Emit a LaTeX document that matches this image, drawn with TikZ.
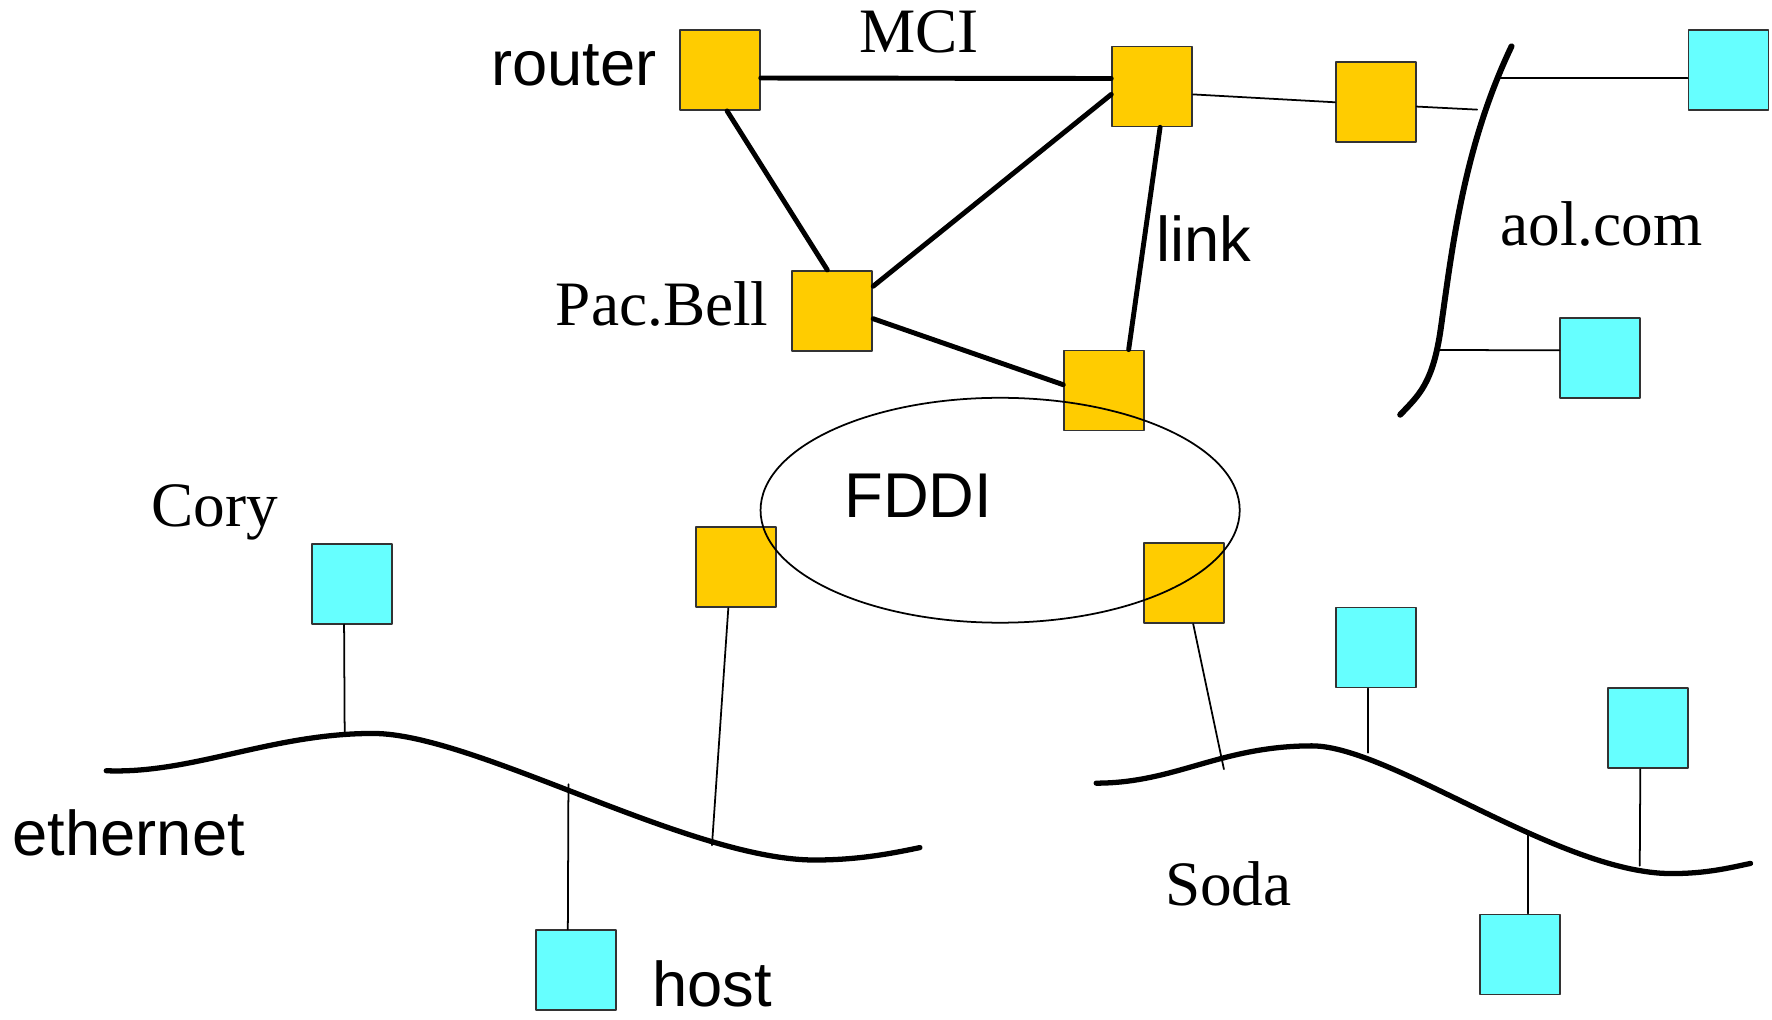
\documentclass[tikz,border=0pt]{standalone}
\usepackage{fontspec}
\setmainfont{Liberation Serif}
\setsansfont{Liberation Sans}
\definecolor{gwyellow}{HTML}{FFCC00}
\definecolor{hostcyan}{HTML}{66FFFF}
\begin{document}
\begin{tikzpicture}[x=1.1301cm,y=1.1301cm,line join=round,line cap=round,
	font=\fontsize{18}{20}\selectfont,
	rbox/.style={draw=black!80,line width=0.5pt,fill=gwyellow,minimum size=0.80cm,inner sep=0pt},
	hbox/.style={draw=black!80,line width=0.5pt,fill=hostcyan,minimum size=0.80cm,inner sep=0pt},
	lab/.style={anchor=base,inner sep=0pt},
	slab/.style={lab,font=\fontsize{18}{20}\selectfont\sffamily},
	trunk/.style={line width=1.4pt},
	cable/.style={line width=1.5pt},
	tap/.style={line width=0.5pt}]
	\useasboundingbox (0,0) rectangle (15.68,-9.02);
	%Router
	\node[rbox] (router) at (6.37,-0.62) {};
	\node[rbox] (mci) at (10.195,-0.765) {};
	\node[rbox] (gwaol) at (12.175,-0.905) {};
	\node[rbox] (pacbell) at (7.365,-2.75) {};
	\node[rbox] (gwlink) at (9.77,-3.455) {};
	\node[rbox] (gwcory) at (6.515,-5.02) {};
	\node[rbox] (gwsoda) at (10.475,-5.16) {};
	%Host
	\node[hbox] (aolhost1) at (15.295,-0.62) {};
	\node[hbox] (aolhost2) at (14.16,-3.17) {};
	\node[hbox] (coryhost) at (3.115,-5.165) {};
	\node[hbox] (host) at (5.095,-8.585) {};
	\node[hbox] (sodahost1) at (12.175,-5.73) {};
	\node[hbox] (sodahost2) at (14.585,-6.445) {};
	\node[hbox] (sodahost3) at (13.45,-8.445) {};
	%Nhan
	\node[slab] (lrouter) at (5.08,-0.76) {router};
	\node[lab] (lmci) at (8.13,-0.466) {MCI};
	\node[slab] (llink) at (10.65,-2.315) {link};
	\node[lab] (laol) at (14.17,-2.168) {aol.com};
	\node[lab] (lpac) at (5.86,-2.876) {Pac.Bell};
	\node[slab] (lfddi) at (8.125,-4.58) {FDDI};
	\node[lab] (lcory) at (1.90,-4.66) {Cory};
	\node[slab] (leth) at (1.14,-7.574) {ethernet};
	\node[slab] (lhost) at (6.30,-8.91) {host};
	\node[lab] (lsoda) at (10.87,-8.01) {Soda};
	%Duong truc
	\draw[trunk] (router.-11)--(mci.169);
	\draw[trunk] (router.-80)--(pacbell.97);
	\draw[trunk] (mci.191)--(pacbell.31);
	\draw[trunk] (pacbell.-11)--(gwlink.172);
	\draw[trunk] (mci.-79)--(gwlink.59);
	\draw[tap] (mci.-11)--(gwaol.west);
	%aol.com
	\draw[cable,line width=1.7pt] (13.375,-0.41) .. controls (12.95,-1.30) and (12.85,-2.20) .. (12.75,-2.90)
		.. controls (12.68,-3.40) and (12.55,-3.50) .. (12.39,-3.67);
	\path (13.07,-0.97) coordinate (A1)
		(13.25,-0.69) coordinate (A2)
		(12.70,-3.097) coordinate (A3);
	\draw[tap] (gwaol.-6)--(A1);
	\draw[tap] (A2)--(aolhost1.191);
	\draw[tap] (A3)--(aolhost2.169);
	%Cory
	\draw[cable] (0.94,-6.82) .. controls (1.70,-6.85) and (2.40,-6.49) .. (3.30,-6.49)
		.. controls (4.20,-6.49) and (6.10,-7.61) .. (7.21,-7.61)
		.. controls (7.60,-7.61) and (7.90,-7.55) .. (8.14,-7.50);
	\path (3.05,-6.486) coordinate (E1)
		(5.03,-6.94) coordinate (E2)
		(6.30,-7.48) coordinate (E3);
	\draw[tap] (coryhost.-101)--(E1);
	\draw[tap] (E2)--(host.101);
	\draw[tap] (gwcory.-101)--(E3);
	%Soda
	\draw[cable] (9.70,-6.93) .. controls (10.40,-6.93) and (10.80,-6.60) .. (11.61,-6.60)
		.. controls (12.30,-6.60) and (13.80,-7.73) .. (14.79,-7.73)
		.. controls (15.10,-7.73) and (15.30,-7.68) .. (15.49,-7.64);
	\path (10.83,-6.806) coordinate (S1)
		(12.105,-6.66) coordinate (S2)
		(13.52,-7.38) coordinate (S3)
		(14.51,-7.66) coordinate (S4);
	\draw[tap] (gwsoda.-77)--(S1);
	\draw[tap] (sodahost1.-101)--(S2);
	\draw[tap] (S3)--(sodahost3.79);
	\draw[tap] (sodahost2.-101)--(S4);
	%FDDI
	\draw[tap] (8.85,-4.515) ellipse (2.12 and 0.995);
\end{tikzpicture}
\end{document}
